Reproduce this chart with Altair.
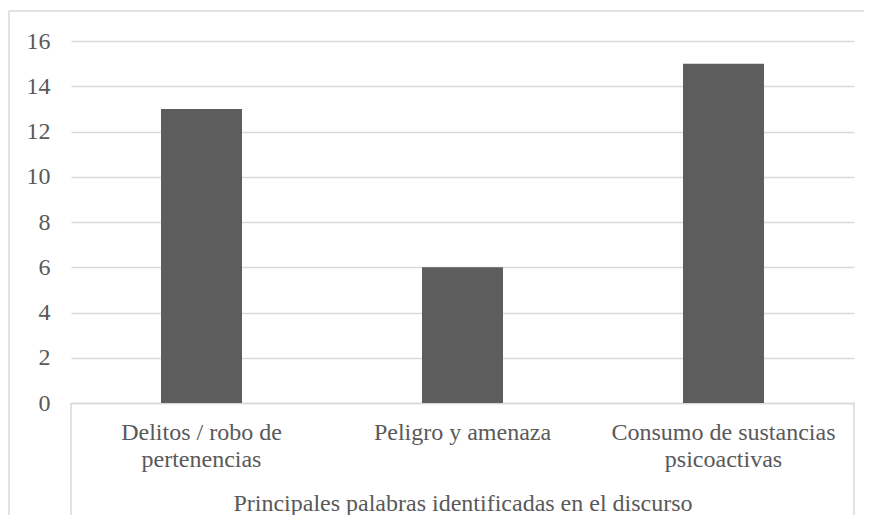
import altair as alt
import pandas as pd

categories = ["Delitos / robo de\npertenencias", "Peligro y amenaza", "Consumo de sustancias\npsicoactivas"]
values = [13, 6, 15]
y_ticks = [0, 2, 4, 6, 8, 10, 12, 14, 16]
group_label = "Principales palabras identificadas en el discurso"

FONT = "Liberation Serif"
TXT = "#595959"
GRID = "#d9d9d9"
W, H = 783, 362

df = pd.DataFrame({"cat": categories, "val": values})

bars = alt.Chart(df).mark_bar(size=81, color="#5d5d5d").encode(
    x=alt.X("cat:N", sort=categories,
            scale=alt.Scale(paddingInner=0, paddingOuter=0),
            axis=alt.Axis(title=group_label, labelExpr="split(datum.label, '\\n')",
                          labelAngle=0, labelFont=FONT, labelFontSize=24, labelColor=TXT,
                          labelBaseline="alphabetic", labelPadding=36, labelLineHeight=27,
                          labelLimit=400, ticks=False, tickSize=0,
                          domainColor=GRID, domainWidth=1.5,
                          titleFont=FONT, titleFontSize=24, titleFontWeight="normal",
                          titleColor=TXT, titleBaseline="alphabetic", titleY=107,
                          titleX=W / 2, titleAnchor="middle", titleAlign="center")),
    y=alt.Y("val:Q", scale=alt.Scale(domain=[0, 16], nice=False),
            axis=alt.Axis(title=None, values=y_ticks, grid=True, gridColor=GRID, gridWidth=1.5,
                          domain=False, ticks=False, tickSize=0, labelPadding=21,
                          labelFont=FONT, labelFontSize=24, labelColor=TXT)),
)

# multi-level category box side lines
sides = alt.Chart(pd.DataFrame({"k": [0, 1]})).mark_rule(color=GRID, strokeWidth=1.5).encode(
    x=alt.X("k:Q", scale=alt.Scale(domain=[0, 1], range=[0, W]), axis=None),
    y=alt.value(H), y2=alt.value(H + 113),
)

# outer chart border (top and left)
top_border = alt.Chart(pd.DataFrame({"a": [0]})).mark_rule(color=GRID, strokeWidth=1.5).encode(
    x=alt.value(-62), x2=alt.value(W + 100), y=alt.value(-30))
left_border = alt.Chart(pd.DataFrame({"a": [0]})).mark_rule(color=GRID, strokeWidth=1.5).encode(
    x=alt.value(-62), y=alt.value(-30), y2=alt.value(H + 200))

chart = alt.layer(bars, sides, top_border, left_border).resolve_scale(x="independent").properties(
    width=W, height=H,
    autosize=alt.AutoSizeParams(type="none"),
    padding={"left": 63, "top": 33, "right": 10, "bottom": 112},
    background="white",
).configure_view(stroke=None)

chart.save("out.html", embed_options={"renderer": "svg", "actions": False})
